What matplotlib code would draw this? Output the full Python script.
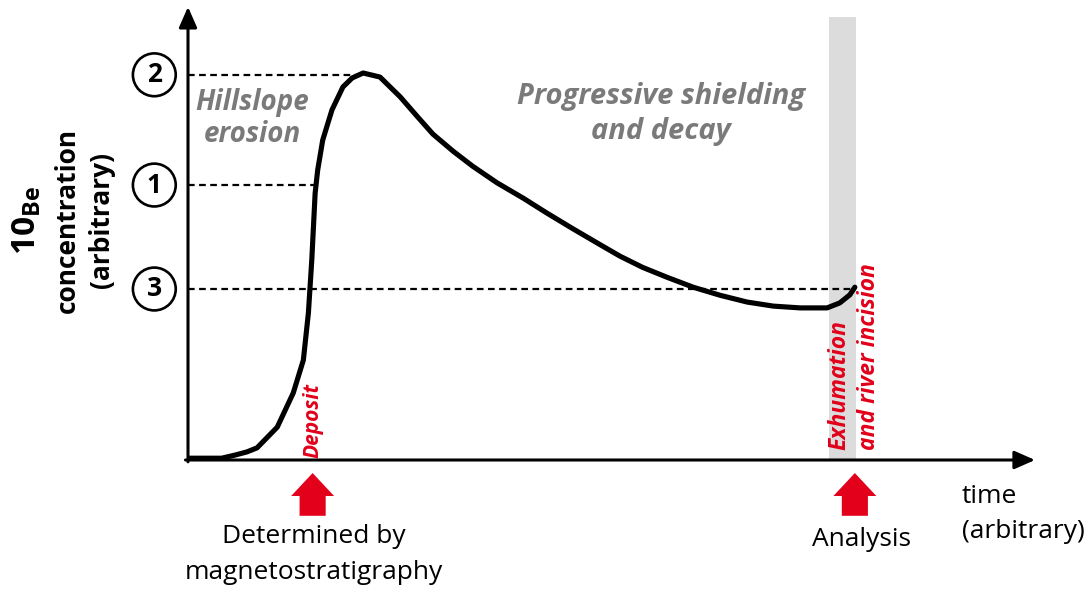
import numpy as np
import matplotlib
matplotlib.use("Agg")
import matplotlib.pyplot as plt

plt.rcParams['font.family'] = ['Open Sans', 'DejaVu Sans']
plt.rcParams['mathtext.fontset'] = 'custom'
plt.rcParams['mathtext.bf'] = 'Open Sans:bold'
plt.rcParams['mathtext.rm'] = 'Open Sans'

# 10Be concentration history (arbitrary units)
time = [0.0, 4.0, 5.6, 7.0, 8.2, 10.6, 12.5, 13.7, 14.3, 14.7, 15.1, 15.4,
        16.0, 17.1, 18.4, 19.5, 20.8, 22.8, 25.2, 27.2, 29.1, 31.5, 33.8,
        36.7, 39.8, 42.6, 45.7, 48.9, 51.3, 54.0, 56.9, 60.0, 63.2, 66.4,
        69.5, 72.7, 75.9, 77.4, 78.6, 79.2]
conc = [0.4, 0.4, 1.1, 1.8, 2.7, 7.3, 14.9, 22.2, 32.7, 44.4, 59.3, 64.4,
        71.1, 77.8, 82.9, 84.9, 86.0, 85.1, 80.7, 76.4, 72.4, 68.6, 65.3,
        61.6, 58.2, 54.9, 51.4, 47.9, 45.3, 42.8, 40.6, 38.4, 36.6, 35.1,
        34.2, 33.8, 33.8, 34.9, 36.7, 38.4]

# reference levels (circled numbers) and where the dashed guides stop
level_labels = ['2', '1', '3']
level_values = [85.6, 61.1, 38.0]
level_ends = [20.4, 15.2, 79.2]

deposit_time = 14.8
analysis_time = 79.2
exhumation_band = (76.1, 79.3)

red = '#e2001a'
grey_txt = '#7a7a7a'

fig = plt.figure(figsize=(10.91, 5.92), dpi=100)
ax = fig.add_axes([188 / 1091, 132 / 592, 842 / 1091, 450 / 592])
ax.set_xlim(0, 100)
ax.set_ylim(0, 100)
ax.axis('off')

# grey band for exhumation
ax.axvspan(exhumation_band[0], exhumation_band[1], ymin=0, ymax=0.984,
           color='#dcdcdc', lw=0, zorder=0)

# dashed guides and circled labels
for lab, val, end in zip(level_labels, level_values, level_ends):
    ax.plot([0, end], [val, val], ls=(0, (3, 2)), color='black', lw=1.6,
            zorder=1)
    ax.text(-4.0, val, lab, ha='center', va='center', fontsize=19,
            fontweight='bold', clip_on=False,
            bbox=dict(boxstyle='circle,pad=0.3', fc='white', ec='black',
                      lw=1.9))

# the curve
ax.plot(time, conc, color='black', lw=3.7, solid_capstyle='round',
        solid_joinstyle='round', zorder=3)

# axes with arrows
arrow_kw = dict(arrowstyle='-|>,head_length=1.25,head_width=0.55',
                color='black', lw=2.2, shrinkA=0, shrinkB=0)
ax.annotate('', xy=(100.6, 0), xytext=(-0.3, 0), annotation_clip=False,
            arrowprops=arrow_kw)
ax.annotate('', xy=(0, 100.7), xytext=(0, -0.4), annotation_clip=False,
            arrowprops=arrow_kw)

# red block arrows below the time axis
for t in [deposit_time, analysis_time]:
    ax.arrow(t, -12.4, 0, 9.5, width=3.1, head_width=5.1, head_length=5.1,
             length_includes_head=True, color=red, lw=0, clip_on=False)

# annotations
grey_kw = dict(color=grey_txt, fontsize=20, fontweight='bold',
               style='italic', ha='center', va='center')
ax.text(7.6, 79.4, 'Hillslope', **grey_kw)
ax.text(7.6, 72.3, 'erosion', **grey_kw)
grey_kw['fontsize'] = 21
ax.text(56.2, 80.7, 'Progressive shielding', **grey_kw)
ax.text(56.2, 72.9, 'and decay', **grey_kw)

red_kw = dict(color=red, fontweight='bold', style='italic', rotation=90,
              ha='center', va='bottom')
ax.text(deposit_time, 0.5, 'Deposit', fontsize=15, **red_kw)
ax.text(77.4, 2.2, 'Exhumation', fontsize=16.5, **red_kw)
ax.text(80.9, 2.2, 'and river incision', fontsize=16.5, **red_kw)

ax.text(15.0, -17.1, 'Determined by', fontsize=19, ha='center',
        va='center', clip_on=False)
ax.text(15.0, -25.1, 'magnetostratigraphy', fontsize=19, ha='center',
        va='center', clip_on=False)
ax.text(80.0, -17.6, 'Analysis', fontsize=19, ha='center', va='center',
        clip_on=False)
ax.text(91.9, -8.2, 'time', fontsize=19, ha='left', va='center',
        clip_on=False)
ax.text(91.9, -16.0, '(arbitrary)', fontsize=19, ha='left', va='center',
        clip_on=False)

# y label
ax.text(-19.2, 53.3, r'$\mathbf{10}_{\mathbf{Be}}$', fontsize=24,
        rotation=90, ha='center', va='center', clip_on=False)
ax.text(-14.3, 53.3, 'concentration', fontsize=19, fontweight='bold',
        rotation=90, ha='center', va='center', clip_on=False)
ax.text(-10.3, 53.3, '(arbitrary)', fontsize=19, fontweight='bold',
        rotation=90, ha='center', va='center', clip_on=False)

fig.savefig('out.png', dpi=100)
